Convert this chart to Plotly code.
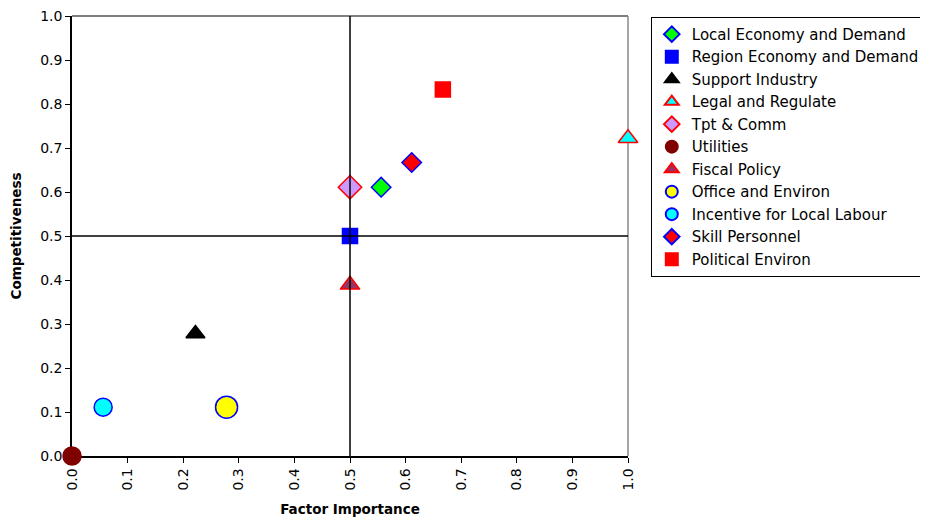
import plotly.graph_objects as go

names = ["Local Economy and Demand", "Region Economy and Demand", "Support Industry",
         "Legal and Regulate", "Tpt & Comm", "Utilities", "Fiscal Policy",
         "Office and Environ", "Incentive for Local Labour", "Skill Personnel",
         "Political Environ"]
importance = [0.556, 0.5, 0.222, 1.0, 0.5, 0.0, 0.5, 0.278, 0.056, 0.611, 0.667]
competitiveness = [0.611, 0.5, 0.278, 0.722, 0.611, 0.0, 0.389, 0.111, 0.111, 0.667, 0.833]

symbols = ["diamond", "square", "triangle-up", "triangle-up", "diamond", "circle",
           "triangle-up", "circle", "circle", "diamond", "square"]
fills = ["#00FF00", "#0000FF", "#000000", "#00FFFF", "#CC99FF", "#800000",
         "#993366", "#FFFF00", "#00FFFF", "#FF0000", "#FF0000"]
edges = ["#0000FF", "#0000FF", "#000000", "#FF0000", "#FF0000", "#800000",
         "#FF0000", "#0000FF", "#0000FF", "#0000FF", "#FF0000"]
sizes = [15, 15, 16.5, 17, 18, 18, 17, 22, 18, 15, 15]

fig = go.Figure()
for n, x, y, s, fc, ec, sz in zip(names, importance, competitiveness, symbols, fills, edges, sizes):
    fig.add_trace(go.Scatter(
        x=[x], y=[y], mode="markers", name=n, cliponaxis=False,
        marker=dict(symbol=s, color=fc, size=sz, line=dict(color=ec, width=1.5)),
    ))

fig.add_shape(type="line", xref="x", yref="y", x0=0.5, x1=0.5, y0=0, y1=1,
              line=dict(color="black", width=1.5), layer="above")
fig.add_shape(type="line", xref="x", yref="y", x0=0, x1=1, y0=0.5, y1=0.5,
              line=dict(color="black", width=1.5), layer="above")
fig.add_shape(type="line", xref="paper", yref="paper", x0=0, x1=1, y0=1, y1=1,
              line=dict(color="#555555", width=1.5), layer="below")
fig.add_shape(type="line", xref="paper", yref="paper", x0=1, x1=1, y0=0, y1=1,
              line=dict(color="#888888", width=1.5), layer="below")

FONT = "DejaVu Sans, Liberation Sans, Arial, sans-serif"
axis_font = dict(family=FONT, size=14, color="black")
fig.update_layout(
    width=928, height=521,
    margin=dict(l=64, r=308, t=8, b=73, autoexpand=False),
    paper_bgcolor="white", plot_bgcolor="white",
    font=dict(family=FONT, color="black"),
    xaxis=dict(range=[0, 1], dtick=0.1, tick0=0, tickformat=".1f", tickangle=-90,
               showgrid=False, zeroline=False, showline=True, linecolor="black", linewidth=1.5,
               ticks="outside", ticklen=5, tickcolor="black", tickfont=axis_font,
               automargin=False, layer="below traces", ticklabeloverflow="allow",
               title=dict(text="<b>Factor Importance</b>", font=dict(size=13.5))),
    yaxis=dict(range=[0, 1], dtick=0.1, tick0=0, tickformat=".1f",
               showgrid=False, zeroline=False, showline=True, linecolor="black", linewidth=1.5,
               ticks="outside", ticklen=5, tickcolor="black", tickfont=axis_font,
               automargin=False, layer="below traces", ticklabeloverflow="allow",
               title=dict(text="<b>Competitiveness</b>", font=dict(size=13.5))),
    legend=dict(x=1.041, y=0.998, xanchor="left", yanchor="top",
                bordercolor="black", borderwidth=1, bgcolor="white",
                font=dict(size=15, color="black"), itemsizing="constant",
                tracegroupgap=0, itemwidth=30),
    showlegend=True,
)

fig.write_html("out.html")
